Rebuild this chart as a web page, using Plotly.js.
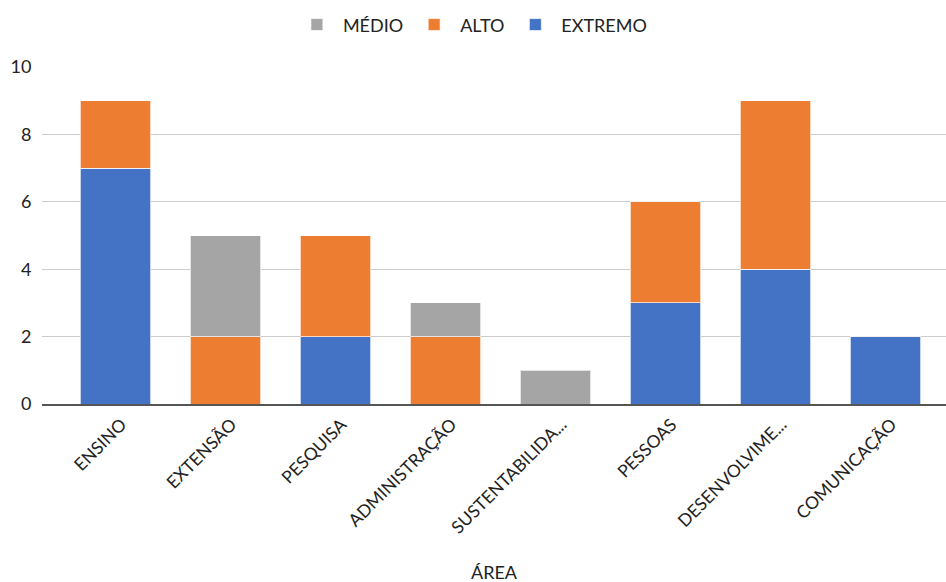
<!DOCTYPE html>
<html>
<head>
<meta charset="utf-8">
<script src="https://cdn.plot.ly/plotly-3.0.1.min.js"></script>
<style>html,body{margin:0;padding:0;background:#fff;}#chart{width:946px;height:582px;}</style>
</head>
<body>
<div id="chart"></div>
<script>
const categories = ["ENSINO", "EXTENSÃO", "PESQUISA", "ADMINISTRAÇÃO", "SUSTENTABILIDA...", "PESSOAS", "DESENVOLVIME...", "COMUNICAÇÃO"];
const extremo = [7, null, 2, null, null, 3, 4, 2];
const alto    = [2, 2, 3, 2, null, 3, 5, null];
const medio   = [null, 3, null, 1, 1, null, null, null];
const yTicks = [0, 2, 4, 6, 8, 10];

const FONT = "Lato, 'Open Sans', sans-serif";
const barLine = {color: "rgba(255,255,255,0.7)", width: 1};

const traces = [
  {type: "bar", name: "EXTREMO", x: categories, y: extremo, marker: {color: "#4472C4", line: barLine}},
  {type: "bar", name: "ALTO", x: categories, y: alto, marker: {color: "#ED7D31", line: barLine}},
  {type: "bar", name: "MÉDIO", x: categories, y: medio, marker: {color: "#A5A5A5", line: barLine}}
];

const layout = {
  width: 946, height: 582,
  margin: {l: 42, r: 0, t: 67, b: 178},
  barmode: "stack",
  bargap: 0.355,
  paper_bgcolor: "#fff", plot_bgcolor: "#fff",
  font: {family: FONT, color: "#222", size: 16},
  showlegend: true,
  legend: {orientation: "h", x: 0.475, xanchor: "center", y: 1.125, yanchor: "middle",
           traceorder: "reversed", font: {size: 18, color: "#222"}, itemwidth: 42},
  xaxis: {
    type: "category",
    range: [-0.668, 7.55],
    tickangle: -45,
    tickfont: {size: 17.5, color: "#222"},
    ticklabelstandoff: 2,
    ticklabelshift: 6,
    showgrid: false,
    showline: true, linecolor: "#555", linewidth: 1.5,
    ticks: "",
    automargin: false
  },
  yaxis: {
    range: [0, 10],
    tickvals: yTicks,
    ticktext: yTicks.map(String),
    tickfont: {size: 18, color: "#222"},
    gridcolor: "#cccccc", gridwidth: 1,
    zeroline: false,
    showline: false,
    ticks: "outside", ticklen: 6, tickcolor: "rgba(0,0,0,0)",
    automargin: false
  },
  annotations: [{
    text: "ÁREA", xref: "paper", yref: "paper", x: 0.5, y: 0, yshift: -168,
    xanchor: "center", yanchor: "middle", showarrow: false,
    font: {size: 18, color: "#222", family: FONT}
  }]
};

Plotly.newPlot("chart", traces, layout, {staticPlot: true, displayModeBar: false});
</script>
</body>
</html>
